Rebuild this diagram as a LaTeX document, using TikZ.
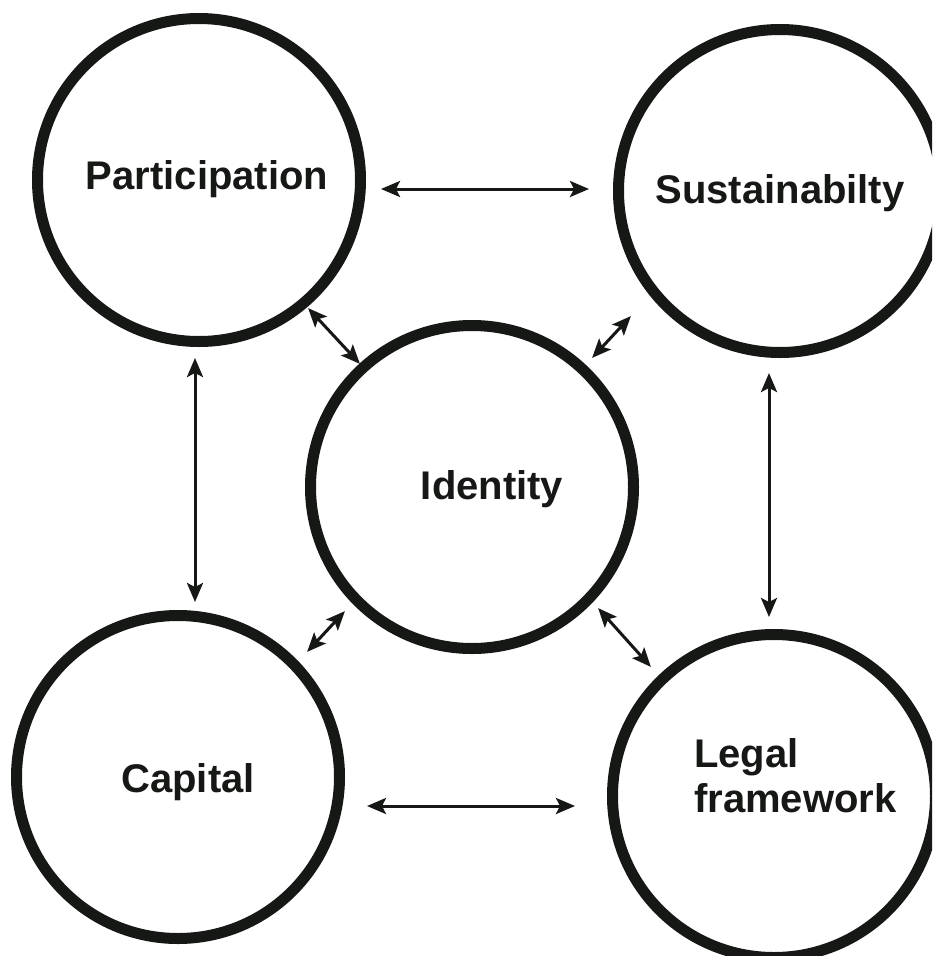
\documentclass[tikz,border=0pt]{standalone}
\usepackage{fontspec}
\setmainfont{Liberation Sans}
\usetikzlibrary{arrows.meta}
\definecolor{ink}{RGB}{22,24,22}
\begin{document}
\begin{tikzpicture}[x=1pt,y=-1pt,
  ring/.style={circle,draw=ink,line width=11pt,minimum size=323pt,inner sep=0pt},
  lbl/.style={text=ink,font=\fontsize{40}{45}\selectfont\bfseries,inner sep=0pt},
  biarr/.style={draw=ink,line width=3pt,
    {Stealth[length=19pt,width=16pt,inset=4pt]}-{Stealth[length=19pt,width=16pt,inset=4pt]}}]
  \useasboundingbox (0,0) rectangle (932,956);
  \fill[white] (0,0) rectangle (932,956);
  \clip (0,0) rectangle (932,956);

  % the five circles
  \node[ring] (P) at (199,180) {};
  \node[ring] (S) at (780,191) {};
  \node[ring] (I) at (472,487) {};
  \node[ring] (C) at (178,777) {};
  \node[ring] (L) at (774,796) {};

  % their labels
  \node[lbl,anchor=base] (Pt) at (207,189) {Participation};
  \node[lbl,anchor=base] (St) at (780,203) {Sustainabilty};
  \node[lbl,anchor=base] (It) at (492,499) {Identity};
  \node[lbl,anchor=base] (Ct) at (188,792) {Capital};
  \node[lbl,anchor=north west,align=left] (Lt) at (694,738) {Legal\\framework};

  % outer links
  \draw[biarr] ([shift={(15,9)}]P.east) -- ([shift={(-24,-2)}]S.west);
  \draw[biarr] ([shift={(-4,11)}]P.south) -- ([shift={(17,-8)}]C.north);
  \draw[biarr] ([shift={(-11,15)}]S.south) -- ([shift={(-5,-12)}]L.north);
  \draw[biarr] ([shift={(22,29)}]C.east) -- ([shift={(-32,10)}]L.west);

  % links to the centre
  \draw[biarr] ([shift={(-9,10)}]P.south east) -- ([shift={(6,-5)}]I.north west);
  \draw[biarr] ([shift={(-31,7)}]S.south west) -- ([shift={(2,-11)}]I.north east);
  \draw[biarr] ([shift={(-9,6)}]I.south west) -- ([shift={(11,-7)}]C.north east);
  \draw[biarr] ([shift={(8,3)}]I.south east) -- ([shift={(-5,-11)}]L.north west);
\end{tikzpicture}
\end{document}
